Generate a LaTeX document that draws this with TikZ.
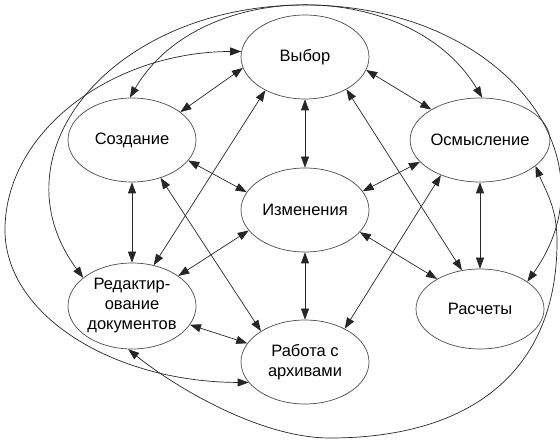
\documentclass[tikz,border=0pt]{standalone}
\usepackage{fontspec}
\setmainfont{Liberation Sans}
\usetikzlibrary{shapes.geometric, arrows.meta}

\begin{document}
\begin{tikzpicture}[x=1pt, y=1pt,
    >={Triangle[length=11pt, width=8pt]},
    block/.style={ellipse, draw=black!70, line width=0.7pt, minimum width=128pt,
        minimum height=84pt, inner sep=0pt, align=center,
        font=\fontsize{16.5}{20}\selectfont},
    link/.style={<->, draw=black!85, line width=0.7pt}]
    \useasboundingbox (0,0) rectangle (560,442);
    \node[block](vyb)   at (305,385) {Выбор};
    \node[block](soz)   at (132,302) {Создание};
    \node[block](osm)   at (480,302) {Осмысление};
    \node[block](izm)   at (305,232) {Изменения};
    \node[block, minimum height=86pt](red) at (132,136) {Редактир-\\ование\\документов};
    \node[block, minimum height=80pt](ras) at (480,133) {Расчеты};
    \node[block](arh)   at (305,80)  {Работа с\\архивами};
    \path
        (vyb)
            edge [link] (izm)
        (vyb.190) edge [link] (soz.30)
        (vyb.-12) edge [link] (osm.148)
        (vyb.220) edge [link] (red.62)
        (vyb.-38) edge [link] (ras.115)
        (soz)
            edge [link] (red)
        (soz.-20) edge [link] (izm.163)
        (soz.-53) edge [link] (arh.145)
        (izm)
            edge [link] (arh)
        (izm.18)  edge [link] (osm.200)
        (izm.-22) edge [link] (ras.145)
        (izm.200) edge [link] (red.33)
        (osm)
            edge [link] (ras)
        (osm.222) edge [link] (arh.40)
        (red)
            edge [link] (arh)
        ;
    % long arcs round the outside
    \draw[link] (soz.93) .. controls (200,465) and (410,465) .. (osm.87);
    \draw[link] (red.150) .. controls (-9,289) and (113,437) .. (305,437)
        .. controls (497,437) and (619,289) .. (ras.30);
    \draw[link] (vyb.175) .. controls (111,390) and (5,310) .. (5,212)
        .. controls (5,127) and (113,60) .. (arh.200);
    \draw[link] (osm.-25) .. controls (546,250) and (557,235) .. (557,200)
        .. controls (557,70) and (470,4) .. (330,4)
        .. controls (260,4) and (175,55) .. (red.-95);
\end{tikzpicture}
\end{document}
